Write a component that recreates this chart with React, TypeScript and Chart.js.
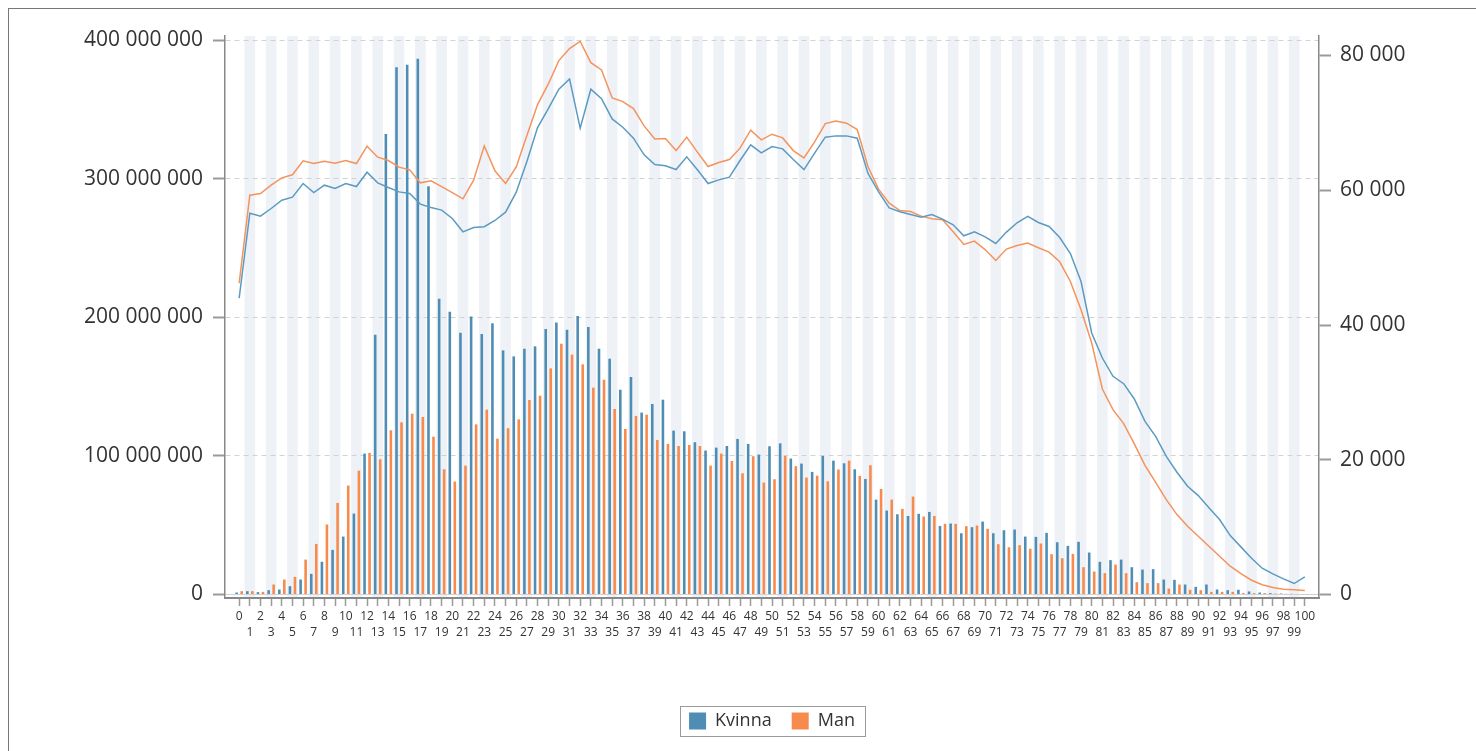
import React, { useEffect, useRef } from 'react';
import { Chart, registerables } from 'chart.js';

Chart.register(...registerables);

const FONT = "'Open Sans', sans-serif";

const ages = [
  0, 1, 2, 3, 4, 5, 6, 7, 8, 9, 10, 11, 12, 13, 14, 15, 16, 17, 18, 19,
  20, 21, 22, 23, 24, 25, 26, 27, 28, 29, 30, 31, 32, 33, 34, 35, 36, 37, 38, 39,
  40, 41, 42, 43, 44, 45, 46, 47, 48, 49, 50, 51, 52, 53, 54, 55, 56, 57, 58, 59,
  60, 61, 62, 63, 64, 65, 66, 67, 68, 69, 70, 71, 72, 73, 74, 75, 76, 77, 78, 79,
  80, 81, 82, 83, 84, 85, 86, 87, 88, 89, 90, 91, 92, 93, 94, 95, 96, 97, 98, 99, 100,
];

// Bars (left axis)
const kvinnaBar = [
  1.4e6, 2.4e6, 1.7e6, 3.1e6, 3.6e6, 6.0e6, 10.8e6, 14.9e6, 23.6e6, 32.2e6,
  41.8e6, 58.4e6, 101.7e6, 187.5e6, 332.4e6, 380.5e6, 382.4e6, 386.7e6, 294.7e6, 213.4e6,
  204e6, 189e6, 200.7e6, 188e6, 195.7e6, 176.2e6, 171.9e6, 177.4e6, 179.1e6, 191.6e6,
  196.4e6, 191.1e6, 201e6, 193e6, 177.4e6, 170.2e6, 147.8e6, 157e6, 131.3e6, 137.5e6,
  140.6e6, 118.3e6, 117.8e6, 109.9e6, 103.9e6, 106e6, 107.2e6, 112.3e6, 108.7e6, 101e6,
  107e6, 109.1e6, 98.1e6, 94.5e6, 88.5e6, 100e6, 96.6e6, 94.7e6, 90.4e6, 83.4e6,
  68.5e6, 60.6e6, 57.9e6, 56.7e6, 58.2e6, 59.6e6, 49.5e6, 51.2e6, 44.2e6, 48.6e6,
  52.6e6, 44.2e6, 46.4e6, 46.9e6, 41.8e6, 41.6e6, 44.5e6, 37.7e6, 35.1e6, 38e6,
  30.3e6, 23.6e6, 24.8e6, 25.2e6, 19.7e6, 18e6, 18.3e6, 10.8e6, 10.6e6, 7.2e6,
  5.5e6, 7.2e6, 3.6e6, 3.1e6, 3.4e6, 2.2e6, 1.4e6, 1.0e6, 0.7e6, 0.5e6, 0.3e6,
];

const manBar = [
  2.4e6, 2.4e6, 1.9e6, 7.2e6, 10.8e6, 12.7e6, 25.2e6, 36.5e6, 50.5e6, 66.1e6,
  78.6e6, 89.4e6, 102.2e6, 97.6e6, 118.5e6, 124.3e6, 130.5e6, 128.1e6, 113.9e6, 90.4e6,
  81.5e6, 93e6, 122.8e6, 133.4e6, 112.5e6, 120e6, 126.4e6, 140.4e6, 143.5e6, 163.2e6,
  181e6, 173.1e6, 166.1e6, 149.3e6, 155e6, 133.9e6, 119.5e6, 128.9e6, 129.8e6, 111.5e6,
  108.7e6, 107.2e6, 107.9e6, 107.2e6, 93e6, 101.7e6, 96.4e6, 87.5e6, 99.8e6, 80.8e6,
  83.2e6, 100e6, 92.6e6, 84.4e6, 85.8e6, 81.7e6, 90.2e6, 96.6e6, 85.6e6, 93.3e6,
  76.2e6, 68.5e6, 61.8e6, 70.7e6, 56.3e6, 56.7e6, 51e6, 51e6, 49.3e6, 49.8e6,
  47.4e6, 36.3e6, 34.1e6, 35.6e6, 33e6, 36.8e6, 29.1e6, 26.2e6, 29.3e6, 19.7e6,
  16.6e6, 15.4e6, 21.6e6, 15.4e6, 8.9e6, 8.2e6, 8.2e6, 4.3e6, 7.2e6, 3.4e6,
  3.1e6, 1.9e6, 1.9e6, 1.9e6, 1.0e6, 1.0e6, 1.0e6, 0.7e6, 0.5e6, 0.4e6, 0.2e6,
];

// Lines (right axis)
const kvinnaLine = [
  44000, 56600, 56160, 57290, 58530, 58970, 61000, 59660, 60750, 60260,
  61000, 60550, 62680, 61100, 60400, 59760, 59520, 57940, 57440, 57050,
  55810, 53830, 54470, 54580, 55510, 56750, 59720, 64260, 69300, 72070,
  75000, 76520, 69210, 75000, 73600, 70590, 69360, 67730, 65250, 63810,
  63620, 63070, 64960, 63030, 61000, 61540, 61940, 64410, 66740, 65550,
  66490, 66140, 64560, 63070, 65500, 67880, 68070, 68070, 67730, 62540,
  59760, 57390, 56800, 56400, 56010, 56400, 55720, 54870, 53240, 53830,
  53090, 52100, 53790, 55170, 56110, 55210, 54620, 52990, 50610, 46460,
  38810, 35100, 32380, 31290, 29020, 25700, 23480, 20510, 18140, 16060,
  14680, 12860, 11120, 8750, 7070, 5380, 3900, 3070, 2330, 1630, 2620,
];

const manLine = [
  46220, 59270, 59520, 60750, 61840, 62290, 64360, 63960, 64310, 64020,
  64410, 63960, 66540, 64910, 64410, 63430, 63030, 61100, 61400, 60550,
  59660, 58730, 61500, 66590, 62880, 61000, 63470, 68120, 72710, 75740,
  79240, 81020, 82110, 78940, 77860, 73700, 73160, 72120, 69550, 67620,
  67670, 65890, 67880, 65650, 63520, 64110, 64560, 66250, 68910, 67480,
  68320, 67770, 65890, 64810, 67180, 69900, 70290, 69950, 69000, 63520,
  60160, 58090, 56990, 56840, 56160, 55760, 55610, 53830, 51950, 52450,
  51200, 49580, 51270, 51800, 52160, 51460, 50820, 49380, 46460, 42270,
  37330, 30500, 27440, 25360, 22350, 19180, 16650, 14090, 11860, 10130,
  8650, 7160, 5680, 4200, 3110, 2120, 1440, 1040, 790, 700, 590,
];

const leftTicks = [0, 100000000, 200000000, 300000000, 400000000];
const rightTicks = [0, 20000, 40000, 60000, 80000];
const seriesNames = ['Kvinna', 'Man'];

const BLUE = '#4f8db4';
const ORANGE = '#f78b4d';
const BLUE_LINE = '#5b9bc2';
const ORANGE_LINE = '#f5935c';

const fmt = (v: number) => String(Math.round(v)).replace(/\B(?=(\d{3})+(?!\d))/g, ' ');

const bandPlugin = {
  id: 'bands',
  beforeDraw(chart: any) {
    const { ctx, chartArea, scales } = chart;
    const x = scales.x;
    ctx.save();
    ctx.fillStyle = '#eef2f7';
    for (const a of ages) {
      if (a % 2 !== 1) continue;
      const l = x.getPixelForValue(a - 0.5);
      const r = x.getPixelForValue(a + 0.5);
      ctx.fillRect(l, chartArea.top, r - l, chartArea.bottom - chartArea.top);
    }
    ctx.restore();
  },
};

const legendBoxPlugin = {
  id: 'legendBox',
  afterDraw(chart: any) {
    const lg = chart.legend;
    if (!lg || !lg.legendHitBoxes || !lg.legendHitBoxes.length) return;
    const hb = lg.legendHitBoxes;
    const first = hb[0];
    const last = hb[hb.length - 1];
    const l = Math.round(first.left - 9) + 0.5;
    const r = Math.round(last.left + last.width + 10) + 0.5;
    const t = Math.round(first.top - 6) + 0.5;
    const b = Math.round(first.top + first.height + 6) + 0.5;
    const { ctx } = chart;
    ctx.save();
    ctx.strokeStyle = '#9a9a9a';
    ctx.lineWidth = 1;
    ctx.strokeRect(l, t, r - l, b - t);
    ctx.restore();
  },
};

export default function App() {
  const ref = useRef<HTMLCanvasElement | null>(null);

  useEffect(() => {
    if (!ref.current) return;
    const chart = new Chart(ref.current, {
      type: 'bar',
      data: {
        datasets: [
          {
            type: 'bar',
            label: seriesNames[0],
            data: ages.map((a, i) => ({ x: a, y: kvinnaBar[i] })),
            backgroundColor: BLUE,
            borderWidth: 0,
            yAxisID: 'y',
            order: 2,
            categoryPercentage: 0.94,
            barPercentage: 0.52,
          },
          {
            type: 'bar',
            label: seriesNames[1],
            data: ages.map((a, i) => ({ x: a, y: manBar[i] })),
            backgroundColor: ORANGE,
            borderWidth: 0,
            yAxisID: 'y',
            order: 2,
            categoryPercentage: 0.94,
            barPercentage: 0.52,
          },
          {
            type: 'line',
            label: seriesNames[0] + ' line',
            data: ages.map((a, i) => ({ x: a, y: kvinnaLine[i] })),
            borderColor: BLUE_LINE,
            borderWidth: 1.5,
            pointRadius: 0,
            tension: 0,
            fill: false,
            yAxisID: 'y1',
            order: 1,
          },
          {
            type: 'line',
            label: seriesNames[1] + ' line',
            data: ages.map((a, i) => ({ x: a, y: manLine[i] })),
            borderColor: ORANGE_LINE,
            borderWidth: 1.5,
            pointRadius: 0,
            tension: 0,
            fill: false,
            yAxisID: 'y1',
            order: 1,
          },
        ] as any,
      },
      options: {
        responsive: false,
        animation: false,
        events: [],
        layout: { padding: { top: 27, left: 0, right: 0, bottom: 11 } },
        plugins: {
          legend: {
            position: 'bottom',
            fullSize: false,
            labels: {
              boxWidth: 17,
              boxHeight: 17,
              padding: 20,
              color: '#333',
              font: { family: FONT, size: 18 },
              filter: (item: any) => item.datasetIndex < 2,
            },
          },
          tooltip: { enabled: false },
        },
        scales: {
          x: {
            type: 'linear',
            min: -1.33,
            max: 101.33,
            offset: false,
            afterBuildTicks: (s: any) => {
              s.ticks = ages.map((v) => ({ value: v }));
            },
            afterFit: (s: any) => {
              s.height = 94;
            },
            grid: {
              offset: false,
              drawOnChartArea: false,
              tickLength: 8,
              tickColor: '#9a9a9a',
              tickWidth: 1.5,
            },
            border: { color: '#888', width: 2 },
            ticks: {
              autoSkip: false,
              maxRotation: 0,
              minRotation: 0,
              padding: 2.5,
              color: '#333',
              font: { family: FONT, size: 12, lineHeight: 1.36 },
              callback: (v: any) => (Number(v) % 2 === 0 ? String(v) : ['', String(v)]),
            },
          },
          y: {
            type: 'linear',
            position: 'left',
            min: -2.53e6,
            max: 403.1e6,
            afterBuildTicks: (s: any) => {
              s.ticks = leftTicks.map((v) => ({ value: v }));
            },
            afterFit: (s: any) => {
              s.width = 216;
            },
            grid: {
              color: '#d2d2d2',
              lineWidth: 1,
              tickLength: 12,
              tickColor: '#9a9a9a',
              tickWidth: 2,
            },
            border: {
              color: '#888',
              width: 1.5,
              dash: (ctx: any) => (ctx.tick && ctx.tick.value === 0 ? [] : [5, 4]),
            },
            ticks: {
              padding: 10,
              color: '#333',
              font: { family: FONT, size: 21 },
              callback: (v: any) => fmt(Number(v)),
            },
          },
          y1: {
            type: 'linear',
            position: 'right',
            min: -519,
            max: 82894,
            afterBuildTicks: (s: any) => {
              s.ticks = rightTicks.map((v) => ({ value: v }));
            },
            afterFit: (s: any) => {
              s.width = 157;
            },
            grid: {
              drawOnChartArea: false,
              tickLength: 12,
              tickColor: '#9a9a9a',
              tickWidth: 2,
            },
            border: { color: '#888', width: 1.5 },
            ticks: {
              padding: 9,
              color: '#333',
              font: { family: FONT, size: 21 },
              callback: (v: any) => fmt(Number(v)),
            },
          },
        },
      } as any,
      plugins: [bandPlugin, legendBoxPlugin],
    });
    return () => chart.destroy();
  }, []);

  return (
    <div
      style={{
        position: 'fixed',
        left: 8,
        top: 8,
        width: 1468,
        height: 743,
        borderTop: '1px solid #777',
        borderLeft: '1px solid #777',
        boxSizing: 'border-box',
        background: '#fff',
      }}
    >
      <canvas ref={ref} width={1467} height={742} style={{ display: 'block' }} />
    </div>
  );
}
